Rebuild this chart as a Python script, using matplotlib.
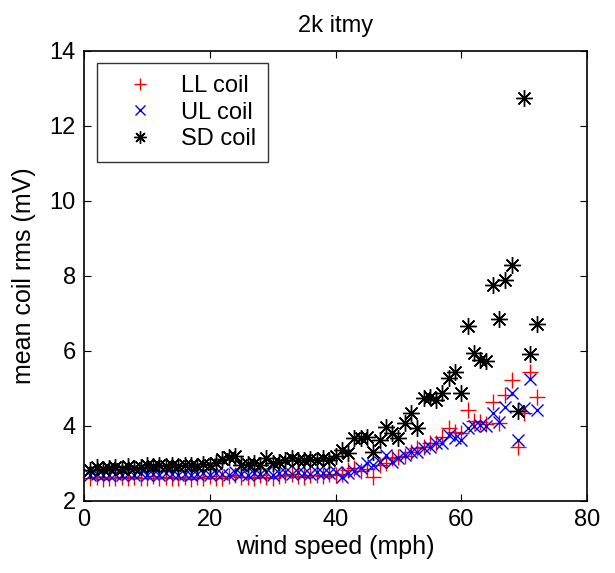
import matplotlib
matplotlib.use('Agg')
import matplotlib.pyplot as plt
import numpy as np

# wind speed bins (mph)
speed = np.arange(1, 73)

ll_coil = [2.60, 2.65, 2.58, 2.62, 2.60, 2.65, 2.60, 2.63, 2.60, 2.62,
           2.66, 2.60, 2.64, 2.62, 2.60, 2.63, 2.58, 2.65, 2.62, 2.66,
           2.62, 2.60, 2.66, 2.68, 2.63, 2.65, 2.60, 2.70, 2.65, 2.62,
           2.66, 2.70, 2.72, 2.66, 2.64, 2.68, 2.70, 2.66, 2.72, 2.69,
           2.72, 2.83, 2.87, 2.80, 2.85, 2.65, 2.96, 3.00, 3.14, 3.18,
           3.20, 3.31, 3.41, 3.45, 3.54, 3.54, 3.71, 3.94, 3.85, 3.80,
           4.43, 4.14, 4.11, 4.05, 4.65, 4.07, 4.83, 5.23, 3.45, 4.34,
           5.45, 4.78]

ul_coil = [2.70, 2.72, 2.68, 2.70, 2.73, 2.69, 2.72, 2.70, 2.74, 2.70,
           2.72, 2.68, 2.74, 2.71, 2.70, 2.73, 2.70, 2.72, 2.74, 2.70,
           2.75, 2.72, 2.70, 2.76, 2.72, 2.70, 2.74, 2.72, 2.76, 2.70,
           2.74, 2.78, 2.72, 2.76, 2.74, 2.72, 2.78, 2.75, 2.74, 2.78,
           2.65, 2.74, 2.80, 2.87, 3.00, 2.95, 3.05, 3.23, 3.05, 3.15,
           3.23, 3.31, 3.31, 3.40, 3.45, 3.54, 3.54, 3.76, 3.67, 3.63,
           3.94, 4.00, 4.03, 4.00, 4.34, 4.11, 4.51, 4.87, 3.63, 4.47,
           5.24, 4.43]

sd_coil = [2.82, 2.90, 2.85, 2.88, 2.90, 2.86, 2.92, 2.88, 2.90, 2.95,
           2.92, 2.97, 2.93, 2.96, 2.92, 2.97, 2.95, 2.93, 2.98, 2.95,
           3.00, 3.12, 3.18, 3.20, 2.95, 2.98, 3.02, 2.95, 3.15, 3.02,
           3.05, 3.10, 3.15, 3.08, 3.10, 3.12, 3.08, 3.15, 3.10, 3.20,
           3.36, 3.27, 3.67, 3.67, 3.71, 3.31, 3.63, 3.98, 3.80, 3.67,
           4.07, 4.34, 3.94, 4.74, 4.78, 4.70, 4.87, 5.29, 5.45, 4.87,
           6.67, 5.95, 5.76, 5.73, 7.75, 6.85, 7.90, 8.30, 4.40, 12.75,
           5.91, 6.72]

plt.rcParams['font.family'] = ['Liberation Sans', 'DejaVu Sans']

fig = plt.figure(figsize=(6.15, 5.73), dpi=100)
ax = fig.add_axes([0.1366, 0.1257, 0.818, 0.7853])

# matlab style markers
ax.plot(speed, ll_coil, linestyle='none', marker='+', color='r',
        markersize=11, markeredgewidth=1.0, label='LL coil')
ax.plot(speed, ul_coil, linestyle='none', marker='x', color='b',
        markersize=8, markeredgewidth=1.0, label='UL coil')
ax.plot(speed, sd_coil, linestyle='none', marker=(8, 2, 0), color='k',
        markersize=12, markeredgewidth=1.0, label='SD coil')

ax.set_xlim(0, 80)
ax.set_ylim(2, 14)
ax.set_xticks(np.arange(0, 81, 20))
ax.set_yticks(np.arange(2, 15, 2))
ax.tick_params(direction='in', length=5, width=0.8, top=True, right=True,
               labelsize=17, pad=6)
for s in ax.spines.values():
    s.set_linewidth(1.2)

ax.set_xlabel('wind speed (mph)', fontsize=18, labelpad=3)
ax.set_ylabel('mean coil rms (mV)', fontsize=18, labelpad=10)
ax.set_title('2k itmy', fontsize=17, pad=14)

leg = ax.legend(loc='upper left', bbox_to_anchor=(0.026, 0.973), fontsize=17,
                frameon=True, fancybox=False, edgecolor='k', borderpad=0.5,
                borderaxespad=0, handletextpad=0.45, labelspacing=0.2,
                handlelength=2.6)
leg.get_frame().set_linewidth(1.0)
leg.legend_handles[0].set_markersize(9)
leg.legend_handles[1].set_markersize(7)
leg.legend_handles[2].set_markersize(9)

fig.savefig('out.png', dpi=100)
